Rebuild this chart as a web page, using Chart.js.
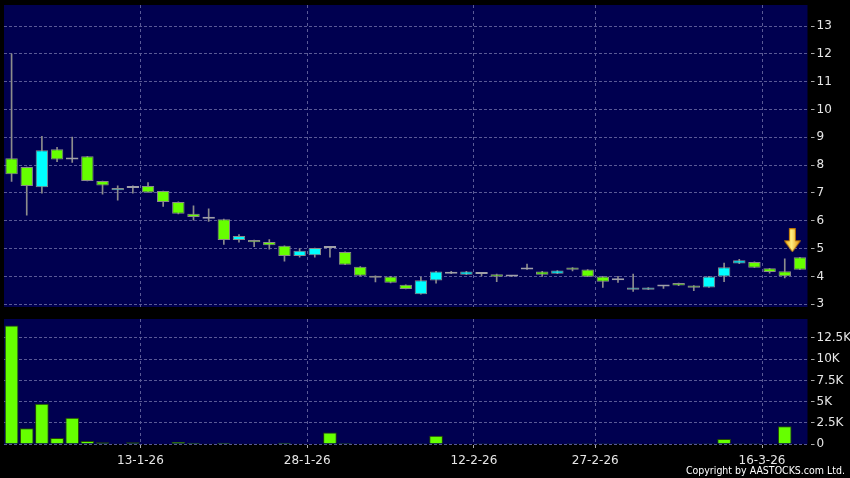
<!DOCTYPE html>
<html><head><meta charset="utf-8">
<script src="https://cdn.jsdelivr.net/npm/chart.js@4/dist/chart.umd.min.js"></script>
<style>
html,body{margin:0;padding:0;background:#000;}
#wrap{position:relative;width:850px;height:478px;background:#000;overflow:hidden;}
#pc{position:absolute;left:0;top:0;}
#vc{position:absolute;left:0;top:312px;}
#copy{position:absolute;right:5px;top:463px;color:#fff;font-family:"DejaVu Sans Condensed","DejaVu Sans",sans-serif;font-stretch:condensed;font-size:10.5px;line-height:14px;white-space:nowrap;}
</style></head><body>
<div id="wrap">
<canvas id="pc" width="850" height="318"></canvas>
<canvas id="vc" width="850" height="166"></canvas>
<div id="copy">Copyright by AASTOCKS.com Ltd.</div>
</div>
<script>
// ---- data ----
const dates = ['30-12-25','31-12-25','2-1-26','5-1-26','6-1-26','7-1-26','8-1-26','9-1-26','12-1-26','13-1-26',
  '14-1-26','15-1-26','16-1-26','19-1-26','20-1-26','21-1-26','22-1-26','23-1-26','26-1-26','27-1-26','28-1-26',
  '29-1-26','30-1-26','2-2-26','3-2-26','4-2-26','5-2-26','6-2-26','9-2-26','10-2-26','11-2-26','12-2-26',
  '13-2-26','16-2-26','20-2-26','23-2-26','24-2-26','25-2-26','26-2-26','27-2-26',
  '2-3-26','3-3-26','4-3-26','5-3-26','6-3-26','9-3-26','10-3-26','11-3-26','12-3-26','13-3-26','16-3-26','17-3-26','18-3-26'];
const opens  = [8.25,7.93,7.21,8.57,8.20,8.32,7.43,7.10,7.18,7.25, 7.07,6.68,6.25,6.07,6.06,5.31,5.31,5.24,5.10,4.73,
  4.76,5.02,4.88,4.35,4.02,4.00,3.70,3.36,3.85,4.10, 4.06,4.09,4.08,4.00,4.25,4.18,4.10,4.32,4.25,4.00,
  3.86,3.52,3.52,3.64,3.76,3.67,3.60,4.00,4.46,4.52, 4.29,4.19,4.69];
const highs  = [12.0,7.93,9.04,8.64,9.01,8.32,7.43,7.26,7.26,7.37, 7.07,6.68,6.54,6.43,6.06,5.50,5.31,5.32,5.10,5.00,
  5.02,5.02,4.88,4.35,4.02,4.00,3.70,3.98,4.18,4.18, 4.18,4.14,4.08,4.00,4.44,4.18,4.21,4.32,4.25,4.00,
  4.00,4.08,3.60,3.66,3.76,3.67,4.00,4.48,4.61,4.52, 4.29,4.63,4.69];
const lows   = [7.42,6.20,6.99,8.13,8.10,7.43,6.96,6.74,6.99,7.02, 6.52,6.25,6.02,5.98,5.15,5.23,5.07,4.98,4.55,4.69,
  4.69,4.69,4.42,4.02,3.80,3.77,3.55,3.36,3.76,4.10, 4.06,4.02,3.81,4.00,4.25,4.00,4.10,4.20,3.99,3.60,
  3.78,3.46,3.52,3.57,3.67,3.49,3.60,3.81,4.46,4.31, 4.12,3.95,4.24];
const closes = [7.67,7.25,8.54,8.20,8.20,7.43,7.27,7.18,7.18,7.02, 6.68,6.25,6.14,6.07,5.31,5.45,5.23,5.12,4.73,4.92,
  5.02,5.02,4.42,4.02,3.95,3.77,3.55,3.86,4.18,4.10, 4.18,4.09,3.99,4.00,4.25,4.06,4.21,4.24,3.99,3.81,
  3.86,3.60,3.60,3.64,3.67,3.59,4.00,4.33,4.58,4.31, 4.16,4.01,4.24];
const volumes = [13970,1850,4760,710,3110,350,200,30,200,50, 50,250,150,30,150,30,30,30,150,30,
  0,1370,120,50,30,100,30,20,980,0, 0,20,80,20,80,30,0,20,20,20,
  20,20,0,20,0,20,20,590,20,20, 0,2100,0];
const tickDates = ['13-1-26','28-1-26','12-2-26','27-2-26','16-3-26'];
const priceTicks = [3,4,5,6,7,8,9,10,11,12,13];
const volumeTicks = [0,2500,5000,7500,10000,12500];
const arrowX = [51.5];
const arrowY = [5.3];

// ---- style ----
const NAVY = '#000050';
const GRID = '#5a5a96';
const GREEN = '#66ff00';
const CYAN = '#00ffff';
const DOJI = '#a0a0a8';
const WICK = '#8c8c8c';
const TXT = '#e6e6e6';
Chart.defaults.font.family = '"DejaVu Sans", sans-serif';
Chart.defaults.font.size = 12;
Chart.defaults.color = TXT;

const tickPos = tickDates.map(d => dates.indexOf(d) - 0.5);
const bgPlugin = {id:'bg', beforeDraw(chart){
  const {ctx, chartArea:a} = chart;
  ctx.save(); ctx.fillStyle = NAVY; ctx.fillRect(a.left, a.top, a.right-a.left, a.bottom-a.top); ctx.restore();
}};

function makeArrow(){
  const c = document.createElement('canvas'); c.width = 17; c.height = 24;
  const g = c.getContext('2d');
  const gr = g.createLinearGradient(0,0,17,0);
  gr.addColorStop(0,'#f0a000'); gr.addColorStop(0.45,'#ffef80'); gr.addColorStop(1,'#e08a00');
  g.fillStyle = gr;
  g.beginPath();
  g.moveTo(5.5,0.5); g.lineTo(11.5,0.5); g.lineTo(11.5,12.5); g.lineTo(16.5,12.5);
  g.lineTo(8.5,23.5); g.lineTo(0.5,12.5); g.lineTo(5.5,12.5); g.closePath();
  g.fill();
  g.strokeStyle = '#c07800'; g.lineWidth = 1; g.stroke();
  return c;
}

const candleColor = i => closes[i] > opens[i] ? CYAN : (closes[i] < opens[i] ? GREEN : DOJI);

const xCommon = (showTicks) => ({
  type:'linear', min:-0.5, max:dates.length-0.5, offset:false,
  afterBuildTicks: s => { s.ticks = tickPos.map(v => ({value:v})); },
  ticks:{display:showTicks, maxRotation:0, autoSkip:false, padding:5, color:TXT,
    callback: v => { const k = tickPos.indexOf(v); return k >= 0 ? tickDates[k] : ''; }},
  grid:{offset:false, color:GRID, lineWidth:1, drawTicks:showTicks, tickLength:5, tickColor:'#aaaaaa', tickBorderDash:[0,1,3,100]},
  border:{display:false, dash:[3,3]},
});

const priceChart = new Chart(document.getElementById('pc'), {
  type:'bar',
  data:{datasets:[
    {type:'scatter', data: arrowX.map((x,i)=>({x, y:arrowY[i]})), pointStyle: makeArrow(), pointRadius:10, order:-1},
    {data: opens.map((o,i)=>({x:i, y:[o, closes[i]]})), grouped:false, order:0,
     backgroundColor: c => candleColor(c.dataIndex),
     borderColor: c => closes[c.dataIndex] === opens[c.dataIndex] ? DOJI : '#8a8a8a',
     borderWidth:1, borderSkipped:false, minBarLength:2, barPercentage:0.82, categoryPercentage:1},
    {data: lows.map((l,i)=>({x:i, y:[l, highs[i]]})), grouped:false, order:1,
     backgroundColor: WICK, borderWidth:0, barThickness:1}
  ]},
  options:{
    responsive:false, animation:false, events:[],
    layout:{autoPadding:false, padding:{left:4, right:0, top:5, bottom:11}},
    plugins:{legend:{display:false}, tooltip:{enabled:false}},
    scales:{
      x: Object.assign(xCommon(false), {afterFit: s => { s.height = 0; s.paddingLeft = 0; s.paddingRight = 0; }}),
      y:{position:'right', min:2.9, max:13.76,
        afterBuildTicks: s => { s.ticks = priceTicks.map(v => ({value:v})); },
        afterFit: s => { s.width = 42.5; s.paddingTop = 0; s.paddingBottom = 0; },
        ticks:{padding:2, color:TXT, callback: v => String(v)},
        grid:{color:GRID, drawTicks:true, tickLength:7, tickColor:'#aaaaaa', tickBorderDash:[0,3,4,100]},
        border:{display:false, dash:[3,2]}}
    }
  },
  plugins:[bgPlugin]
});

const volChart = new Chart(document.getElementById('vc'), {
  type:'bar',
  data:{datasets:[
    {data: volumes.map((v,i)=>({x:i, y:v})), backgroundColor:GREEN, borderColor:'#244a00',
     borderWidth:1, barPercentage:0.9, categoryPercentage:1}
  ]},
  options:{
    responsive:false, animation:false, events:[],
    layout:{autoPadding:false, padding:{left:4, right:0, top:7, bottom:0}},
    plugins:{legend:{display:false}, tooltip:{enabled:false}},
    scales:{
      x: Object.assign(xCommon(true), {afterFit: s => { s.height = 34; s.paddingLeft = 0; s.paddingRight = 0; }}),
      y:{position:'right', min:0, max:14740,
        afterBuildTicks: s => { s.ticks = volumeTicks.map(v => ({value:v})); },
        afterFit: s => { s.width = 42.5; s.paddingTop = 0; s.paddingBottom = 0; },
        ticks:{padding:2, color:TXT, callback: v => v === 0 ? '0' : (v/1000) + 'K'},
        grid:{color:GRID, drawTicks:true, tickLength:7, tickColor:'#aaaaaa', tickBorderDash:[0,3,4,100]},
        border:{display:false, dash:[3,2]}}
    }
  },
  plugins:[bgPlugin]
});
</script>
</body></html>
